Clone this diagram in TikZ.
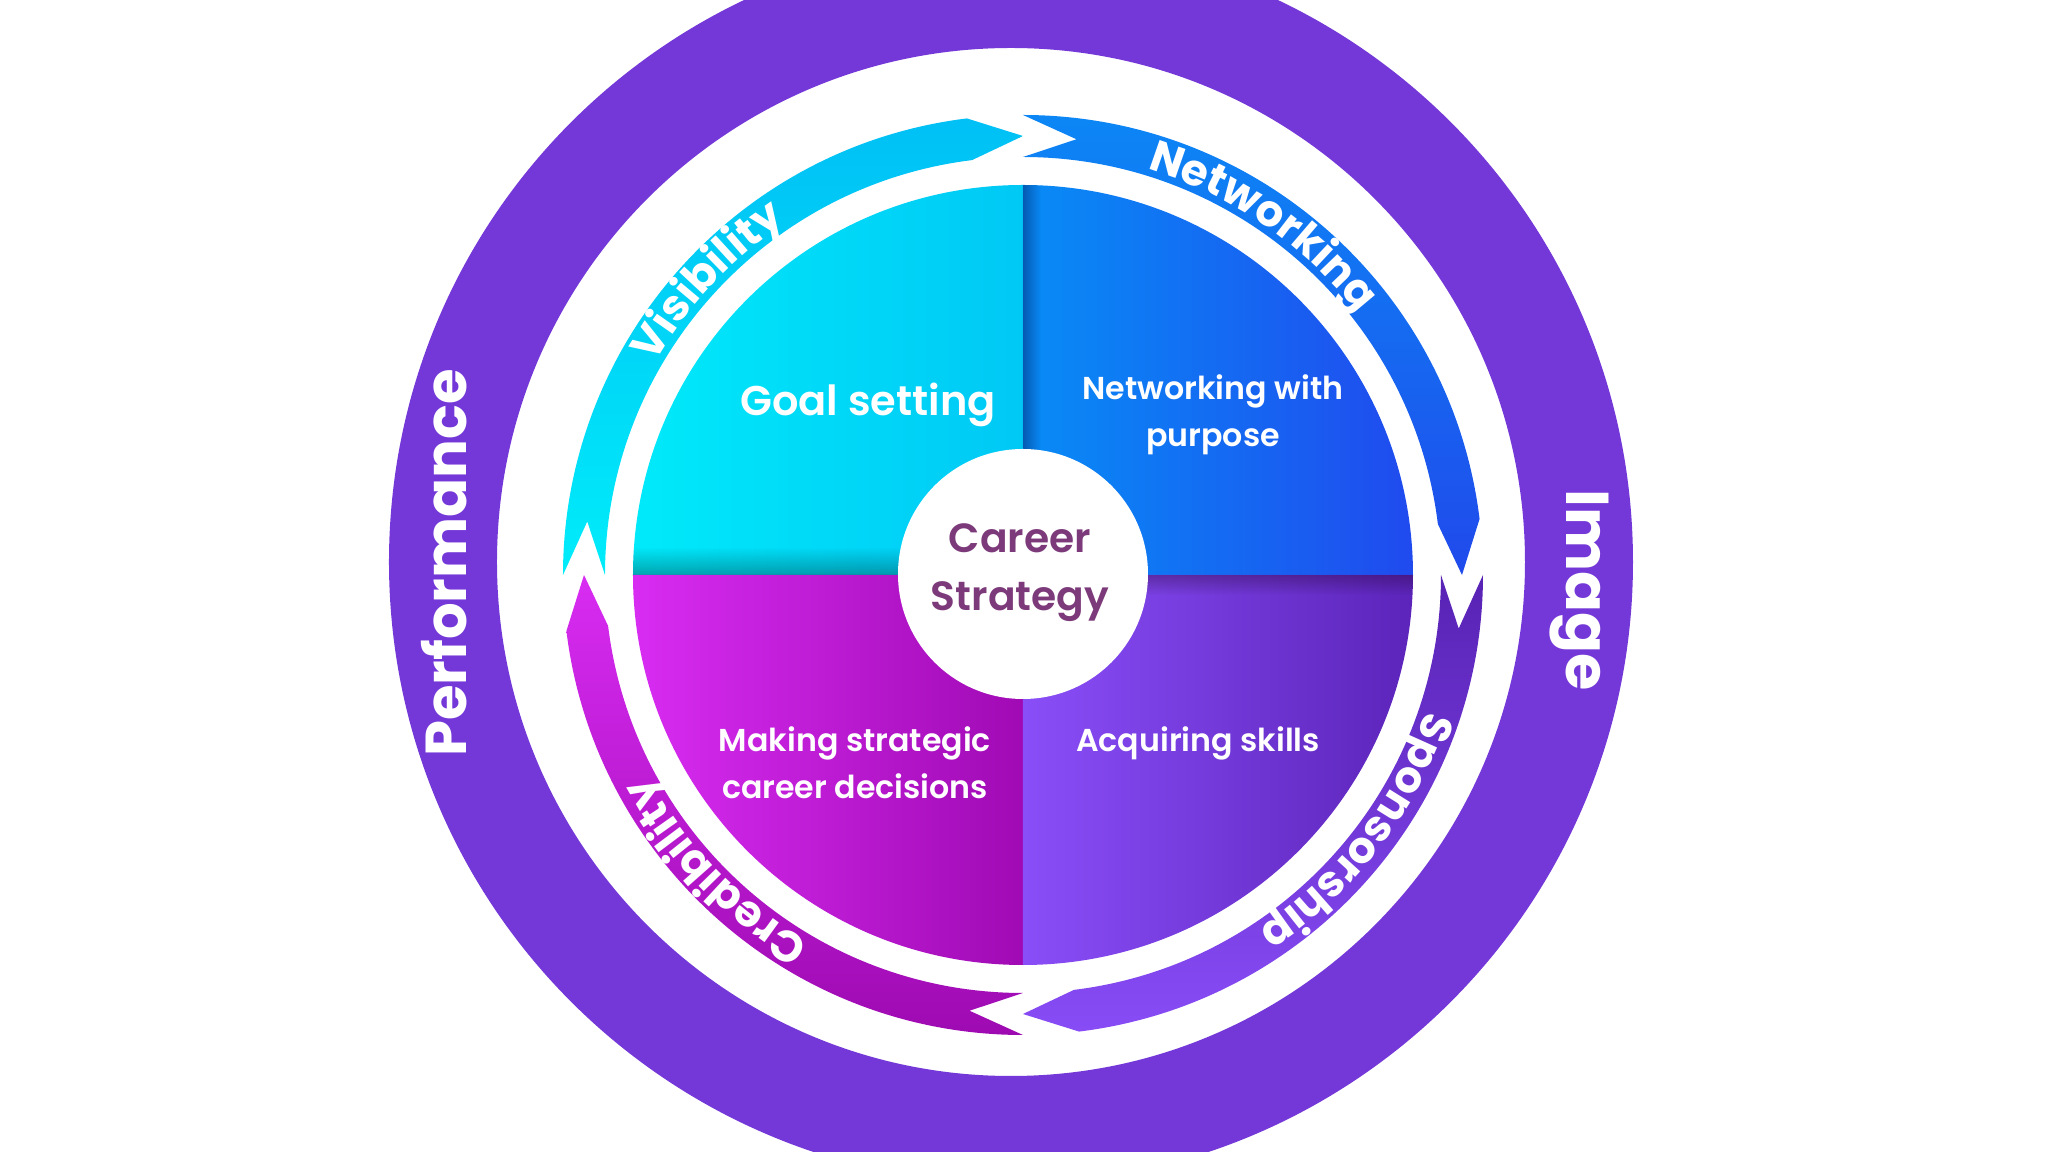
\documentclass[tikz,border=0pt]{standalone}
\usepackage{fontspec}
\setmainfont{Poppins}[BoldFont={Poppins SemiBold}]
\newfontfamily\heavy{Poppins Bold}
\usetikzlibrary{decorations.text,fadings}

\definecolor{ringpurple}{RGB}{116,56,216}
\definecolor{tlL}{RGB}{0,234,250}
\definecolor{tlR}{RGB}{0,200,245}
\definecolor{trL}{RGB}{8,140,246}
\definecolor{trR}{RGB}{32,74,238}
\definecolor{blL}{RGB}{216,44,242}
\definecolor{blR}{RGB}{160,10,180}
\definecolor{brL}{RGB}{138,78,248}
\definecolor{brR}{RGB}{92,36,186}
\definecolor{cyT}{RGB}{0,192,245}
\definecolor{cyB}{RGB}{0,236,250}
\definecolor{buT}{RGB}{12,134,245}
\definecolor{buB}{RGB}{32,74,236}
\definecolor{puT}{RGB}{88,34,180}
\definecolor{puB}{RGB}{136,76,246}
\definecolor{mgT}{RGB}{216,44,242}
\definecolor{mgB}{RGB}{158,10,178}
\definecolor{plum}{RGB}{124,58,122}

\newcommand\arcfont{\heavy\fontsize{12.4}{13}\selectfont\color{white}}

\tikzset{
  quadtext/.style={text=white, font=\bfseries\fontsize{9.0}{13.4}\selectfont, align=center, inner sep=0pt},
  goaltext/.style={text=white, font=\bfseries\fontsize{11.8}{14}\selectfont, inner sep=0pt},
  ringtext/.style={text=white, font=\heavy\fontsize{#1}{20}\selectfont, inner sep=0pt},
  centertext/.style={text=plum, font=\bfseries\fontsize{11.6}{16.5}\selectfont, align=center, inner sep=0pt},
  arctext/.style={decorate, decoration={text along path, text align=center, text={|\arcfont|#1}}}
}

\begin{document}
\begin{tikzpicture}[x=0.01cm,y=0.01cm]
\useasboundingbox (-1023,-577) rectangle (1025,575);
\clip (-1023,-577) rectangle (1025,575);
\fill[white] (-1023,-577) rectangle (1025,575);

% outer purple ring
\fill[ringpurple, even odd rule] (-12,13) circle[radius=622] (-12,13) circle[radius=514];
\node[ringtext=16.4, rotate=90] (perf) at (-579,12) {Performance};
\node[ringtext=17.2, rotate=-90] (image) at (556,-15) {Image};

% quadrants
\shade[left color=tlL, right color=tlR] (0,0) -- (180:390) arc[start angle=180, end angle=90, radius=390] -- cycle;
\shade[left color=trL, right color=trR] (0,0) -- (90:390) arc[start angle=90, end angle=0, radius=390] -- cycle;
\shade[left color=blL, right color=blR] (0,0) -- (180:390) arc[start angle=180, end angle=270, radius=390] -- cycle;
\shade[left color=brL, right color=brR] (0,0) -- (0:390) arc[start angle=0, end angle=-90, radius=390] -- cycle;

% fold shadows
\begin{scope}
  \clip (0,0) -- (180:390) arc[start angle=180, end angle=90, radius=390] -- cycle;
  \fill[black!70!teal, path fading=north, fill opacity=0.35] (-390,0) rectangle (0,28);
\end{scope}
\begin{scope}
  \clip (0,0) -- (90:390) arc[start angle=90, end angle=0, radius=390] -- cycle;
  \fill[black!80!blue, path fading=east, fill opacity=0.35] (0,0) rectangle (18,390);
\end{scope}
\begin{scope}
  \clip (0,0) -- (0:390) arc[start angle=0, end angle=-90, radius=390] -- cycle;
  \fill[black!80!violet, path fading=south, fill opacity=0.3] (0,-20) rectangle (390,0);
\end{scope}

% center circle
\fill[white] (0,1) circle[radius=125];
\node[centertext] (career) at (-3,2) {Career\\Strategy};

% quadrant labels
\node[goaltext] (goal) at (-155,170) {Goal setting};
\node[quadtext] (netp) at (190,160) {Networking with\\purpose};
\node[quadtext] (mksd) at (-168,-188) {Making strategic\\career decisions};
\node[quadtext] (acq) at (175,-168) {Acquiring skills};

% arrow ring
\shade[top color=cyT, bottom color=cyB]
  (180:460) arc[start angle=180, end angle=97, radius=460] -- (90:439) -- (97:418)
  arc[start angle=97, end angle=180, radius=418] -- (173:439) -- cycle;
\shade[top color=buT, bottom color=buB]
  (90:460) arc[start angle=90, end angle=7, radius=460] -- (0:439) -- (7:418)
  arc[start angle=7, end angle=90, radius=418] -- (83:439) -- cycle;
\shade[top color=puT, bottom color=puB]
  (0:460) arc[start angle=0, end angle=-83, radius=460] -- (-90:439) -- (-83:418)
  arc[start angle=-83, end angle=0, radius=418] -- (-7:439) -- cycle;
\shade[top color=mgT, bottom color=mgB]
  (-90:460) arc[start angle=-90, end angle=-173, radius=460] -- (-180:439) -- (-173:418)
  arc[start angle=-173, end angle=-90, radius=418] -- (-97:439) -- cycle;

% arrow labels
\path[arctext=Visibility] (167:425) arc[start angle=167, end angle=107, radius=425];
\path[arctext=Networking] (90:425) arc[start angle=90, end angle=21, radius=425];
\path[arctext=Sponsorship] (-3:425) arc[start angle=-3, end angle=-72, radius=425];
\path[arctext=Credibility] (-101:425) arc[start angle=-101, end angle=-171, radius=425];
\end{tikzpicture}
\end{document}
